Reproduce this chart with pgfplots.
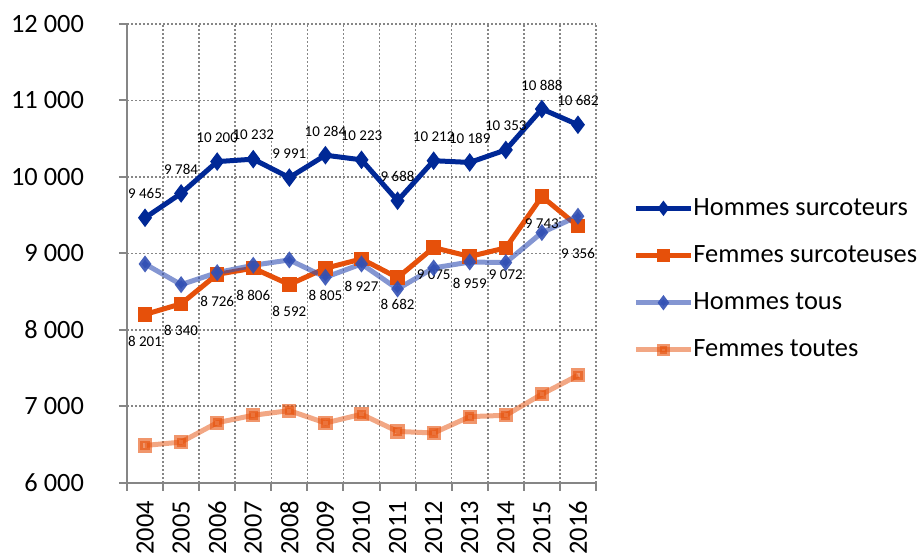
\documentclass[border=0pt]{standalone}
\usepackage{pgfplots}
\pgfplotsset{compat=1.18}
\usepackage{fontspec}
\setmainfont{Carlito}
\definecolor{hs}{RGB}{0,40,150}
\definecolor{fs}{RGB}{230,80,10}
\definecolor{ht}{RGB}{50,80,180}
\definecolor{axgray}{RGB}{134,134,134}
\definecolor{gridgray}{RGB}{134,134,134}
\begin{document}
\begin{tikzpicture}
\begin{axis}[
  scale only axis,
  width=234.5bp, height=229.35bp,
  xmin=-0.5, xmax=12.5, ymin=6000, ymax=12000,
  axis lines=left,
  axis line style={-, draw=axgray, line width=1bp},
  ytick={6000,7000,...,12000},
  scaled y ticks=false,
  xtick={0,...,12},
  xticklabels={2004,2005,2006,2007,2008,2009,2010,2011,2012,2013,2014,2015,2016},
  minor xtick={-0.5,0.5,...,12.5},
  tick align=outside,
  major tick length=4bp,
  minor tick length=4bp,
  major x tick style={draw=none},
  tick style={draw=axgray, line width=1bp},
  minor tick style={draw=axgray, line width=1bp},
  ymajorgrids, xminorgrids, xmajorgrids=false,
  major grid style={draw=gridgray, line width=0.8bp, dash pattern=on 0.9bp off 1.1bp},
  minor grid style={draw=gridgray, line width=0.8bp, dash pattern=on 0.9bp off 1.1bp},
  /pgf/number format/.cd, 1000 sep={\ }, assume math mode=true,
  /pgfplots/.cd,
  yticklabel style={font=\fontsize{13.2bp}{15bp}\selectfont, text=black, xshift=-14bp},
  xticklabel style={font=\fontsize{13.2bp}{15bp}\selectfont, text=black, rotate=90, anchor=east, inner sep=0pt, xshift=-5bp},
  legend style={at={(1.079,0.625)}, anchor=north west, draw=none, fill=none,
    font=\fontsize{13.2bp}{15bp}\selectfont, row sep=11.7bp, inner sep=0pt,
    nodes={inner sep=0pt, anchor=west, text height=9.3bp, text depth=2.6bp}},
  legend cell align=left,
  /tikz/every even column/.style={column sep=2.5bp},
  legend image code/.code={\draw[mark repeat=2,mark phase=2,#1,mark size=1.8bp] plot coordinates {(0bp,0bp) (13.75bp,0bp) (27.5bp,0bp)};},
  clip=false,
]
\addplot[hs, line width=2.5bp, mark=diamond*, mark size=2.6bp, mark options={solid},
  nodes near coords, every node near coord/.style={font=\fontsize{7.5bp}{9bp}\selectfont, text=black, anchor=center, yshift=12bp}]
  coordinates {(0,9465) (1,9784) (2,10200) (3,10232) (4,9991) (5,10284) (6,10223) (7,9688) (8,10212) (9,10189) (10,10353) (11,10888) (12,10682)};
\addlegendentry{Hommes surcoteurs}
\addplot[fs, line width=2.5bp, mark=square*, mark size=2.4bp, mark options={solid},
  nodes near coords, every node near coord/.style={font=\fontsize{7.5bp}{9bp}\selectfont, text=black, anchor=center, yshift=-13.5bp}]
  coordinates {(0,8201) (1,8340) (2,8726) (3,8806) (4,8592) (5,8805) (6,8927) (7,8682) (8,9075) (9,8959) (10,9072) (11,9743) (12,9356)};
\addlegendentry{Femmes surcoteuses}
\addplot[ht, draw opacity=0.6, line width=2.5bp, mark=diamond*, mark size=2.2bp, mark options={solid, fill=ht, draw=ht, draw opacity=0.9, fill opacity=0.9}]
  coordinates {(0,8861) (1,8591) (2,8748) (3,8844) (4,8914) (5,8687) (6,8861) (7,8534) (8,8809) (9,8887) (10,8879) (11,9272) (12,9486)};
\addlegendentry{Hommes tous}
\addplot[fs, draw opacity=0.5, line width=2.5bp, mark=square*, mark size=2.3bp, mark options={solid, fill=fs, draw=fs, fill opacity=0.6, draw opacity=0.6}]
  coordinates {(0,6487) (1,6531) (2,6785) (3,6882) (4,6943) (5,6781) (6,6895) (7,6671) (8,6650) (9,6864) (10,6882) (11,7158) (12,7404)};
\addlegendentry{Femmes toutes}
\coordinate (bl) at (rel axis cs:0,0);
\coordinate (tr) at (rel axis cs:1,1);
\end{axis}
\pgfresetboundingbox
\path ([xshift=-63.5bp, yshift=-36.65bp]bl) rectangle ([xshift=162bp, yshift=12bp]tr);
\end{tikzpicture}
\end{document}
